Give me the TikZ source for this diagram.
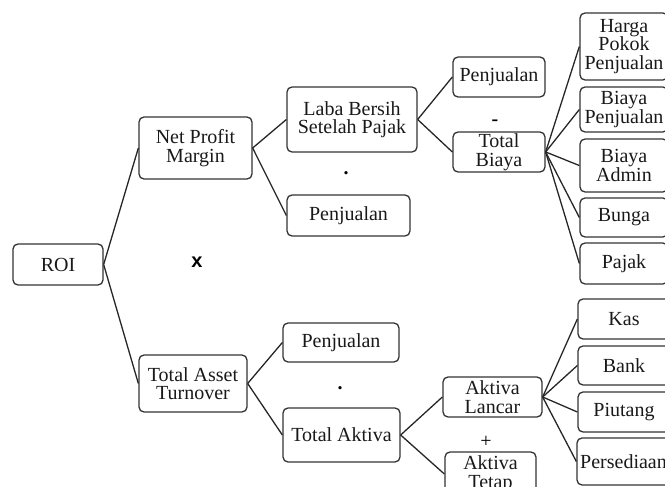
\documentclass[tikz,border=0pt]{standalone}
\usepackage{fontspec}
\setmainfont{Liberation Serif}
\newfontfamily\sansb{Liberation Sans}
\begin{document}
\begin{tikzpicture}[x=1pt,y=-1pt,
 box/.style={draw=black!80, line width=1.3pt, rounded corners=5pt, align=center, inner sep=0pt, font=\fontsize{20}{18.5}\selectfont, text=black!90},
 conn/.style={draw=black!85, line width=1.3pt},
 op/.style={anchor=base, inner sep=0pt, font=\fontsize{20}{20}\selectfont\bfseries, text=black}]
\useasboundingbox (0,0) rectangle (665,487);
\begin{scope}
\clip (0,0) rectangle (665,487);
% nodes
\node[box, minimum width=90pt, minimum height=41pt] (roi) at (58,264.5) {ROI};
\node[box, minimum width=113pt, minimum height=62pt] (npm) at (195.5,148) {Net Profit\\Margin};
\node[box, minimum width=130pt, minimum height=65pt] (laba) at (352,119.5) {Laba Bersih\\Setelah Pajak};
\node[box, minimum width=92pt, minimum height=40pt] (penjA) at (499,77) {Penjualan};
\node[box, minimum width=92pt, minimum height=40pt] (tb) at (499,152) {Total\\Biaya};
\node[box, minimum width=123pt, minimum height=41pt] (penjB) at (348.5,215.5) {Penjualan};
\node[box, minimum width=88pt, minimum height=67pt] (hpp) at (624,46.5) {Harga\\Pokok\\Penjualan};
\node[box, minimum width=88pt, minimum height=45pt] (bp) at (624,109.5) {Biaya\\Penjualan};
\node[box, minimum width=88pt, minimum height=53pt] (ba) at (624,165.5) {Biaya\\Admin};
\node[box, minimum width=88pt, minimum height=39pt] (bunga) at (624,217.5) {Bunga};
\node[box, minimum width=88pt, minimum height=41pt] (pajak) at (624,263.5) {Pajak};
\node[box, minimum width=108pt, minimum height=57pt] (tat) at (193,383.5) {Total Asset\\Turnover};
\node[box, minimum width=116pt, minimum height=39pt] (penjC) at (341,342.5) {Penjualan};
\node[box, minimum width=117pt, minimum height=54pt] (ta) at (341.5,435) {Total Aktiva};
\node[box, minimum width=99pt, minimum height=40pt] (al) at (492.5,397) {Aktiva\\Lancar};
\node[box, minimum width=91pt, minimum height=44pt] (at) at (490.5,474) {Aktiva\\Tetap};
\node[box, minimum width=92pt, minimum height=40pt] (kas) at (624,319) {Kas};
\node[box, minimum width=92pt, minimum height=39pt] (bank) at (624,365.5) {Bank};
\node[box, minimum width=92pt, minimum height=40pt] (piut) at (624,412) {Piutang};
\node[box, minimum width=93pt, minimum height=47pt] (pers) at (623.5,461.5) {Persediaan};
% connectors
\draw[conn] (roi.east) -- (npm.west);
\draw[conn] (roi.east) -- (tat.west);
\draw[conn] (npm.east) -- (laba.west);
\draw[conn] (npm.east) -- (penjB.west);
\draw[conn] (laba.east) -- (penjA.west);
\draw[conn] (laba.east) -- (tb.west);
\draw[conn] (tb.east) -- (hpp.west);
\draw[conn] (tb.east) -- (bp.west);
\draw[conn] (tb.east) -- (ba.west);
\draw[conn] (tb.east) -- (bunga.west);
\draw[conn] (tb.east) -- (pajak.west);
\draw[conn] (tat.east) -- (penjC.west);
\draw[conn] (tat.east) -- (ta.west);
\draw[conn] (ta.east) -- (al.west);
\draw[conn] (ta.east) -- (at.west);
\draw[conn] (al.east) -- (kas.west);
\draw[conn] (al.east) -- (bank.west);
\draw[conn] (al.east) -- (piut.west);
\draw[conn] (al.east) -- (pers.west);
% operators
\node[inner sep=0pt, font=\sansb\bfseries\fontsize{20}{20}\selectfont] (times) at (197,262) {x};
\node[op] (dotA) at (346,175) {.};
\node[op] (minus) at (495,126) {-};
\node[op] (dotB) at (340,389) {.};
\node[op, font=\fontsize{20}{20}\selectfont] (plus) at (486,447) {+};
\end{scope}
\end{tikzpicture}
\end{document}
